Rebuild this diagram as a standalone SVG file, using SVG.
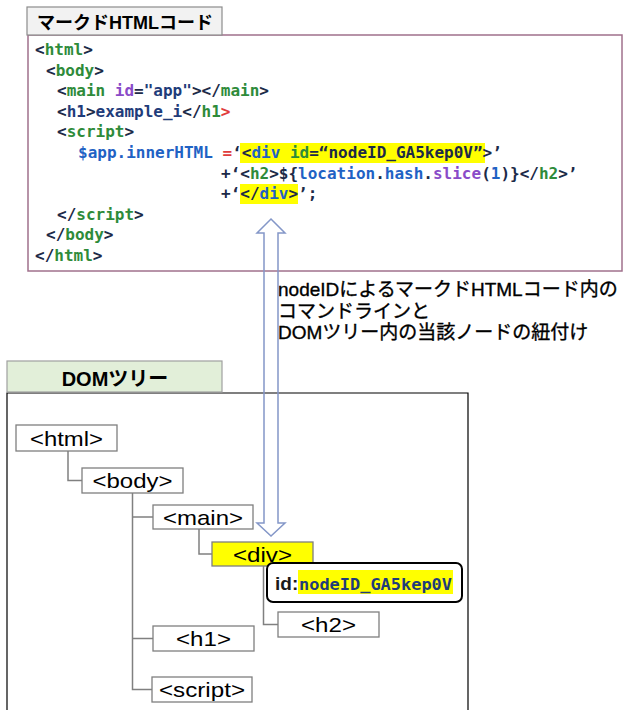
<svg xmlns="http://www.w3.org/2000/svg" width="631" height="710" viewBox="0 0 631 710">
<style>
.code{font-family:"DejaVu Sans Mono","Liberation Mono",monospace;font-size:16px;font-weight:bold;white-space:pre}
.n{fill:#1c2a48}.g{fill:#2e8b3a}.b{fill:#1f62c4}.p{fill:#8a4bc8}.r{fill:#e03c3c}.d{fill:#1f3c7a}
.hl{fill:#ffff00}
.box{fill:#fff;stroke:#7f7f7f;stroke-width:1.3}
.lbl{font-family:"Liberation Sans",Arial,sans-serif;font-size:21px;fill:#000;text-anchor:middle}
.conn{fill:none;stroke:#808080;stroke-width:1.5}
.jp{font-family:"Liberation Sans","Noto Sans CJK JP",sans-serif;fill:#000}
.mid{font-size:19px;stroke:#000;stroke-width:0.35}
</style>
<rect width="631" height="710" fill="#fff"/>
<g id="code-panel">
<rect x="28" y="35" width="594" height="236" fill="#fff" stroke="#a0708c" stroke-width="1.5"/>
<rect x="27" y="7" width="195" height="28" fill="#f2f2f2" stroke="#8c8c8c" stroke-width="1.2"/>
<text class="jp" x="125" y="29" font-size="18" font-weight="bold" text-anchor="middle">マークドHTMLコード</text>
<rect class="hl" x="240" y="143" width="245" height="20"/>
<rect class="hl" x="240" y="184" width="58" height="20"/>
<text class="code" x="35" y="55"><tspan class="n">&lt;</tspan><tspan class="g">html</tspan><tspan class="n">&gt;</tspan></text>
<text class="code" x="46" y="75.6"><tspan class="n">&lt;</tspan><tspan class="g">body</tspan><tspan class="n">&gt;</tspan></text>
<text class="code" x="57" y="96.2"><tspan class="n">&lt;</tspan><tspan class="g">main</tspan> <tspan class="p">id</tspan><tspan class="n">=</tspan><tspan class="d">"app"</tspan><tspan class="n">&gt;&lt;/</tspan><tspan class="g">main</tspan><tspan class="n">&gt;</tspan></text>
<text class="code" x="57" y="116.8"><tspan class="n">&lt;</tspan><tspan class="d">h1</tspan><tspan class="n">&gt;</tspan><tspan class="d">example_i</tspan><tspan class="n">&lt;/</tspan><tspan class="g">h1</tspan><tspan class="r">&gt;</tspan></text>
<text class="code" x="57" y="137.4"><tspan class="n">&lt;</tspan><tspan class="g">script</tspan><tspan class="n">&gt;</tspan></text>
<text class="code" x="78" y="158"><tspan class="b">$app.innerHTML</tspan> <tspan class="r">=</tspan><tspan class="n">‘&lt;</tspan><tspan class="b">div</tspan> <tspan class="g">id</tspan><tspan class="n">=“nodeID_GA5kep0V”&gt;’</tspan></text>
<text class="code" x="221" y="178.6"><tspan class="n">+‘&lt;</tspan><tspan class="g">h2</tspan><tspan class="n">&gt;${</tspan><tspan class="b">location</tspan><tspan class="n">.</tspan><tspan class="b">hash</tspan><tspan class="n">.</tspan><tspan class="p">slice</tspan><tspan class="n">(</tspan><tspan class="b">1</tspan><tspan class="n">)}&lt;/</tspan><tspan class="g">h2</tspan><tspan class="n">&gt;’</tspan></text>
<text class="code" x="221" y="199.2"><tspan class="n">+‘&lt;/</tspan><tspan class="b">div</tspan><tspan class="n">&gt;’;</tspan></text>
<text class="code" x="57" y="219.8"><tspan class="n">&lt;/</tspan><tspan class="g">script</tspan><tspan class="n">&gt;</tspan></text>
<text class="code" x="46" y="240.4"><tspan class="n">&lt;/</tspan><tspan class="g">body</tspan><tspan class="n">&gt;</tspan></text>
<text class="code" x="35" y="261"><tspan class="n">&lt;/</tspan><tspan class="g">html</tspan><tspan class="n">&gt;</tspan></text>
</g>
<g id="link-label">
<text class="jp mid" x="278" y="296">nodeIDによるマークドHTMLコード内の</text>
<text class="jp mid" x="278" y="318">コマンドラインと</text>
<text class="jp mid" x="278" y="339">DOMツリー内の当該ノードの紐付け</text>
</g>
<g id="dom-panel">
<path d="M7 710 V393 H468 V710" fill="none" stroke="#000" stroke-width="1.2"/>
<rect x="7" y="361" width="215" height="31" fill="#e2efd9" stroke="#a0a0a0" stroke-width="1.2"/>
<text class="jp" x="115" y="386" font-size="20" font-weight="bold" text-anchor="middle">DOMツリー</text>
</g>
<g id="connectors">
<path class="conn" d="M68 451 V480.5 H82"/>
<path class="conn" d="M132.5 493 V689.5 H152 M132.5 517 H153 M132.5 638.5 H153"/>
<path class="conn" d="M199 529 V554 H212"/>
<path class="conn" d="M263.5 566 V624.5 H278"/>
<path d="M271 219 L285 233 H278 V523 H285 L271 536 L257 523 H264 V233 H257 Z" fill="none" stroke="#8497c8" stroke-width="1.5" stroke-linejoin="miter"/>
</g>
<g id="node-html"><rect class="box" x="16" y="425" width="101" height="26"/><text class="lbl" x="66.5" y="445.5" textLength="73" lengthAdjust="spacingAndGlyphs">&lt;html&gt;</text></g>
<g id="node-body"><rect class="box" x="82" y="468" width="101" height="25"/><text class="lbl" x="132.5" y="488" textLength="80" lengthAdjust="spacingAndGlyphs">&lt;body&gt;</text></g>
<g id="node-main"><rect class="box" x="153" y="505" width="100" height="24"/><text class="lbl" x="203" y="524.5" textLength="80" lengthAdjust="spacingAndGlyphs">&lt;main&gt;</text></g>
<g id="node-div"><rect x="212" y="542" width="101" height="24" fill="#ffff00" stroke="#7f7f7f" stroke-width="1.3"/><text class="lbl" x="262.5" y="561.5" textLength="59" lengthAdjust="spacingAndGlyphs">&lt;div&gt;</text></g>
<g id="node-id"><rect x="267" y="563" width="195" height="39" rx="6" fill="#fff" stroke="#000" stroke-width="2"/><rect class="hl" x="298" y="570" width="155" height="24"/><text x="275" y="590" font-family="Liberation Sans,Arial,sans-serif" font-size="19" font-weight="bold" fill="#1a1a1a">id:</text><text class="code" x="299" y="590" font-size="17" fill="#1f3c7a" textLength="153" lengthAdjust="spacingAndGlyphs">nodeID_GA5kep0V</text></g>
<g id="node-h2"><rect class="box" x="278" y="612" width="101" height="25"/><text class="lbl" x="328.5" y="632" textLength="55" lengthAdjust="spacingAndGlyphs">&lt;h2&gt;</text></g>
<g id="node-h1"><rect class="box" x="153" y="626" width="101" height="25"/><text class="lbl" x="203.5" y="646" textLength="55" lengthAdjust="spacingAndGlyphs">&lt;h1&gt;</text></g>
<g id="node-script"><rect class="box" x="152" y="677" width="100" height="25"/><text class="lbl" x="202" y="697" textLength="86" lengthAdjust="spacingAndGlyphs">&lt;script&gt;</text></g>
</svg>
